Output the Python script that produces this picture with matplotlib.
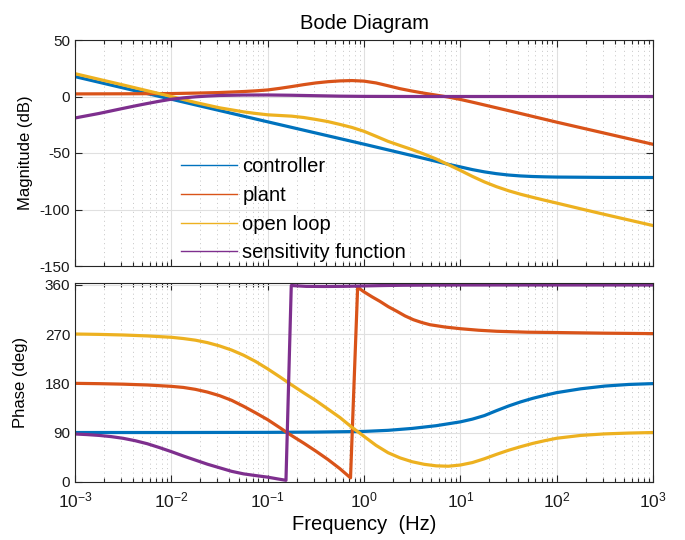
import matplotlib
matplotlib.use("Agg")
import matplotlib.pyplot as plt
from matplotlib.lines import Line2D
from matplotlib.ticker import LogLocator, NullFormatter, FixedLocator

plt.rcParams['font.family'] = ['Liberation Sans', 'DejaVu Sans']
plt.rcParams['axes.unicode_minus'] = False

series_names = ['controller', 'plant', 'open loop', 'sensitivity function']
series_colors = ['#0072BD', '#D95319', '#EDB120', '#7E2F8E']

# ---- magnitude (dB), frequencies given as log10(Hz) ----
ctrl_mag_log10f = [-3, -2, -1, 0, 0.5, 0.75, 0.875, 1.0, 1.125, 1.25, 1.375, 1.5, 1.625,
                   1.75, 1.875, 2.0, 2.5, 3.0]
ctrl_mag_db = [17.6, -2.4, -22.4, -42.2, -52.3, -57.4, -60.0, -62.3, -64.7, -66.7, -68.3, -69.5, -70.3,
               -70.8, -71.1, -71.3, -71.6, -71.7]

plant_mag_log10f = [-3, -2.5, -2, -1.75, -1.5, -1.25, -1.125, -1, -0.875, -0.75, -0.625, -0.5,
                    -0.375, -0.25, -0.125, 0, 0.125, 0.25, 0.375, 0.5, 0.625, 0.75, 0.875,
                    1.0, 1.125, 1.25, 1.5, 2.0, 2.5, 3.0]
plant_mag_db = [2.3, 2.4, 2.6, 3.0, 3.5, 4.4, 5.0, 5.8, 7.2, 8.8, 10.5, 12.0,
                13.1, 13.8, 14.1, 13.6, 12.0, 9.5, 6.9, 4.8, 2.9, 1.2, -0.5,
                -2.6, -5.0, -7.5, -12.5, -22.7, -32.5, -42.3]

loop_mag_log10f = [-3, -2.5, -2, -1.75, -1.5, -1.25, -1.125, -1, -0.875, -0.75, -0.625, -0.5,
                   -0.375, -0.25, -0.125, 0, 0.125, 0.25, 0.375, 0.5, 0.625, 0.75, 0.875,
                   1.0, 1.125, 1.25, 1.375, 1.5, 1.625, 1.75, 1.875, 2.0, 2.25, 2.5, 2.75, 3.0]
loop_mag_db = [20.2, 10.2, 0.0, -5.3, -10.0, -13.6, -15.0, -16.2, -16.8, -17.4, -18.6, -20.3,
               -22.2, -24.7, -27.4, -30.8, -35.2, -39.7, -43.4, -47.0, -51.0, -55.3, -60.3,
               -65.4, -70.7, -75.6, -79.8, -83.4, -86.5, -89.2, -91.8, -94.3, -99.4, -104.4, -109.3, -114.2]

sens_mag_log10f = [-3, -2.75, -2.5, -2.375, -2.25, -2.125, -2, -1.875, -1.75, -1.625, -1.5,
                   -1.25, -1, -0.75, -0.5, -0.25, 0, 0.5, 1, 3]
sens_mag_db = [-19.0, -15.0, -10.5, -8.3, -6.2, -4.2, -2.4, -1.2, -0.3, 0.4, 0.9,
               1.3, 1.35, 1.1, 0.7, 0.3, 0.1, 0.0, 0.0, 0.0]

# ---- phase (deg), wrapped to [0, 360] ----
ctrl_ph_log10f = [-3, -2, -1, -0.5, 0, 0.25, 0.5, 0.75, 1.0, 1.125, 1.25, 1.375, 1.5, 1.625,
                  1.75, 1.875, 2.0, 2.25, 2.5, 2.75, 3.0]
ctrl_ph_deg = [90, 90, 90.3, 90.8, 92, 94, 97.5, 102.5, 109.5, 114.5, 121, 130, 138.5, 146,
               152.5, 158, 163, 170, 175, 178, 179.5]

plant_ph_log10f = [-3, -2.75, -2.5, -2.25, -2, -1.875, -1.75, -1.625, -1.5, -1.375, -1.25,
                   -1.125, -1.0, -0.875, -0.8, -0.75, -0.625, -0.5, -0.375, -0.25, -0.14,
                   -0.066, 0, 0.083, 0.166, 0.253, 0.34, 0.426, 0.512, 0.6, 0.685, 0.84,
                   1.0, 1.19, 1.378, 1.7, 2.0, 2.5, 3.0]
plant_ph_deg = [180, 179.4, 178.5, 177, 174.5, 172.5, 169, 164, 157.5, 149, 138,
                126, 113.5, 99, 90, 84.3, 70.5, 56, 40.7, 23.8, 7,
                355.7, 347.5, 338.4, 330, 320.2, 312, 303.4, 296.5, 291.3, 287.3, 283.1,
                280, 277.2, 275.3, 273.6, 273, 271.8, 271]

loop_ph_log10f = [-3, -2.75, -2.5, -2.25, -2, -1.875, -1.75, -1.625, -1.5, -1.375, -1.25,
                  -1.125, -1, -0.875, -0.75, -0.625, -0.5, -0.375, -0.25, -0.125, 0,
                  0.125, 0.25, 0.375, 0.5, 0.625, 0.75, 0.875, 1.0, 1.125, 1.25, 1.375,
                  1.5, 1.625, 1.75, 1.875, 2.0, 2.25, 2.5, 2.75, 3.0]
loop_ph_deg = [270.3, 269.6, 268.5, 266.8, 264.3, 262, 259, 254.5, 248.5, 241, 231.5,
               220, 206.5, 192, 177, 162.5, 148.5, 133, 117.5, 99.5, 83,
               66.5, 53, 43.5, 36.5, 31.8, 29, 28.3, 30.5, 35, 42, 50,
               57.5, 64, 70, 75, 79.5, 84.7, 87.5, 89, 90]

sens_ph_log10f = [-3, -2.875, -2.75, -2.625, -2.5, -2.375, -2.25, -2.125, -2, -1.875, -1.75,
                  -1.625, -1.5, -1.375, -1.25, -1.125, -1, -0.9, -0.81,
                  -0.755, -0.6, -0.4, -0.2, 0, 0.2, 0.4, 0.7, 1.0, 3.0]
sens_ph_deg = [87.3, 86.2, 84.7, 82.5, 79.4, 75, 69.5, 62.5, 55, 47, 39.5,
               32, 25.5, 19, 14.3, 11.2, 8.3, 5.2, 2.5,
               359, 357.5, 357.3, 357.6, 358.3, 359, 359.5, 359.8, 360, 360]

mag_series = [(ctrl_mag_log10f, ctrl_mag_db), (plant_mag_log10f, plant_mag_db),
              (loop_mag_log10f, loop_mag_db), (sens_mag_log10f, sens_mag_db)]
ph_series = [(ctrl_ph_log10f, ctrl_ph_deg), (plant_ph_log10f, plant_ph_deg),
             (loop_ph_log10f, loop_ph_deg), (sens_ph_log10f, sens_ph_deg)]

mag_ticks = [-150, -100, -50, 0, 50]
phase_ticks = [0, 90, 180, 270, 360]
freq_ticks = [1e-3, 1e-2, 1e-1, 1e0, 1e1, 1e2, 1e3]

W, H = 685, 540
fig = plt.figure(figsize=(W / 100, H / 100), dpi=100)
ax_mag = fig.add_axes([75 / W, 1 - 266 / H, 578 / W, 226 / H])
ax_ph = fig.add_axes([75 / W, 1 - 482.4 / H, 578 / W, (482.4 - 283.25) / H])

spine_col = '#262626'
for ax in (ax_mag, ax_ph):
    ax.set_xscale('log')
    ax.set_xlim(1e-3, 1e3)
    ax.xaxis.set_major_locator(FixedLocator(freq_ticks))
    ax.xaxis.set_minor_locator(LogLocator(base=10, subs=range(2, 10), numticks=20))
    ax.xaxis.set_minor_formatter(NullFormatter())
    ax.grid(which='major', color='#e0e0e0', lw=0.8, ls='-')
    ax.grid(which='minor', axis='x', color='#c4c4c4', lw=0.7, ls=(0, (1, 3.6)))
    ax.set_axisbelow(True)
    ax.tick_params(which='both', direction='in', top=True, right=True,
                   colors=spine_col, labelcolor='#1a1a1a', labelsize=11, width=0.8)
    ax.tick_params(which='major', length=5)
    ax.tick_params(which='minor', length=3)
    for sp in ax.spines.values():
        sp.set_color(spine_col)
        sp.set_linewidth(0.8)

for (lf, vals), col in zip(mag_series, series_colors):
    ax_mag.plot([10 ** v for v in lf], vals, color=col, lw=2.3, solid_joinstyle='round')
for (lf, vals), col in zip(ph_series, series_colors):
    ax_ph.plot([10 ** v for v in lf], vals, color=col, lw=2.3, solid_joinstyle='round')

ax_mag.set_ylim(-150, 50)
ax_mag.set_yticks(mag_ticks)
ax_mag.tick_params(axis='x', labelbottom=False)
ax_ph.set_ylim(-1.3, 363.2)
ax_ph.set_yticks(phase_ticks)
ax_ph.tick_params(axis='x', labelsize=12.5, pad=6)

ax_mag.set_ylabel('Magnitude (dB)', fontsize=12, labelpad=5)
ax_ph.set_ylabel('Phase (deg)', fontsize=12, labelpad=12)
ax_ph.set_xlabel('Frequency  (Hz)', fontsize=14.5, labelpad=3)
ax_mag.set_title('Bode Diagram', fontsize=14.5, pad=8)

handles = [Line2D([], [], color=c, lw=1.0) for c in series_colors]
ax_mag.legend(handles, series_names, loc='upper left', bbox_to_anchor=(0.1835, 0.483),
              frameon=False, fontsize=14.5, handlelength=2.8, handletextpad=0.25,
              labelspacing=0.49, borderpad=0, borderaxespad=0)

fig.savefig('out.png', dpi=100)
